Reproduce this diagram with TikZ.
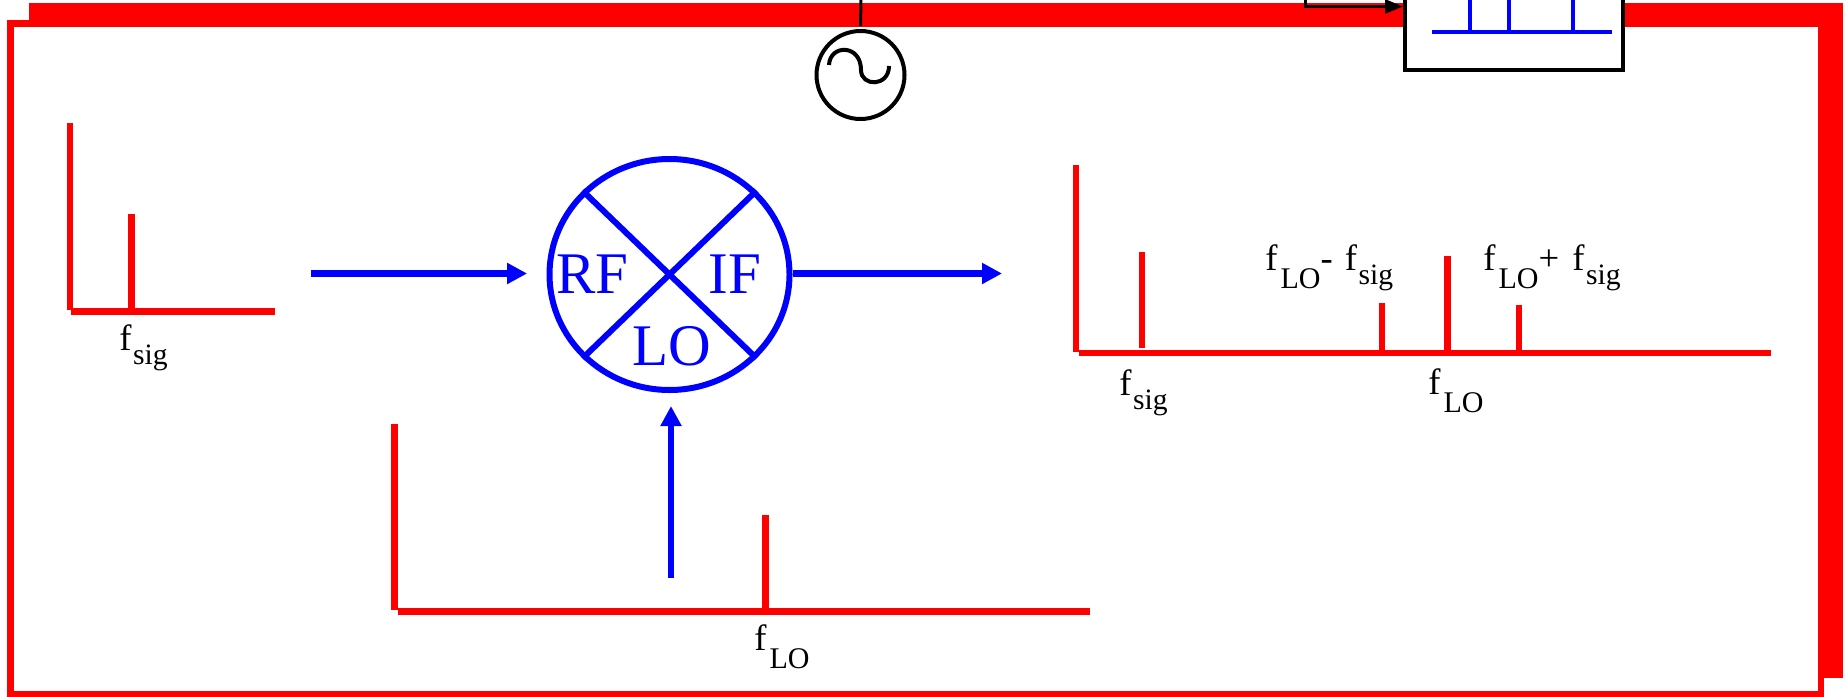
\documentclass[tikz,border=0pt]{standalone}
\usepackage{fontspec}
\setmainfont{Liberation Serif}
\usepackage{tikz}
\usetikzlibrary{shapes, arrows.meta, positioning, calc}
\tikzstyle{spec} = [draw=red, line width=3.2pt]
\tikzstyle{flow} = [draw=blue, line width=3.2pt, -{Triangle[length=10pt, width=10pt]}]
\tikzstyle{tick} = [draw=blue, line width=1.6pt]
\tikzstyle{wire} = [draw=black, line width=1.5pt]
\tikzstyle{freq} = [inner sep=0pt, anchor=base west, font=\fontsize{18.3}{20}\selectfont]
\tikzstyle{port} = [inner sep=0pt, anchor=base west, text=blue, font=\fontsize{29.5}{32}\selectfont]
\newcommand{\siglow}{\kern0.8pt\raisebox{-7pt}{\fontsize{14.8}{16}\selectfont sig}}
\newcommand{\lolow}{\kern1.5pt\raisebox{-9pt}{\fontsize{15}{16}\selectfont LO}}

\begin{document}
\begin{tikzpicture}[x=0.5pt, y=-0.5pt]
\clip (0,0) rectangle (1846,696);
% frame
\fill [red] (29,3) rectangle (1843,678);
\draw [spec, fill=white] (10.5,23.5) rectangle (1821,694);

% oscillator and filter above the mixer
\node (osc) [draw=black, line width=2pt, circle, minimum size=44pt, inner sep=0pt] at (860.5,75) {};
\coordinate (oscin) at (861,-5);
\draw [wire, shorten >=1.5pt] (oscin) -- (osc.north);
\draw [black, line width=2pt] (829,65) .. controls (830,44) and (861,44) .. (861,70) .. controls (861,87) and (889,87) .. (889,66);
\node (filt) [draw=black, fill=white, line width=2pt, rectangle, minimum width=109pt, minimum height=60pt, anchor=south, inner sep=0pt] at (1514,71.5) {};
\coordinate (ctrl) at (1305,-5);
\coordinate (filtin) at (filt.west |- 0,6.5);
\draw [wire, -{Triangle[length=9pt, width=7pt]}] (ctrl) |- (filtin);
\coordinate (combl) at (1432,32);
\coordinate (combr) at (1612,32);
\draw [tick, line width=2pt] (combl) -- (combr);
\foreach \x in {1470,1509,1573} {
  \draw [tick] (\x,-5) -- (\x,32);
}

% mixer
\node (mixer) [draw=blue, line width=3pt, ellipse, minimum width=120pt, minimum height=115.5pt, inner sep=0pt] at (669.5,274.5) {};
\draw [blue, line width=3pt] (mixer.north west) -- (mixer.south east);
\draw [blue, line width=3pt] (mixer.south west) -- (mixer.north east);
\node (rflab) [port] at (556,293) {RF};
\node (iflab) [port] at (708,293) {IF};
\node (lolab) [port] at (632,365) {LO};

% arrows
\coordinate (rfstart) at (311,273.5);
\coordinate (ifend) at (1002,273.5);
\coordinate (lostart) at (671,578);
\draw [flow, shorten >=9.7pt] (rfstart) -- (rfstart -| mixer.west);
\draw [flow] (mixer.east |- ifend) -- (ifend);
\draw [flow, shorten >=6.5pt] (lostart) -- (lostart |- mixer.south);

% input spectrum
\draw [spec] (70,123) -- (70,310);
\draw [spec] (71,311.5) -- (275,311.5);
\draw [spec] (131.5,214) -- (131.5,310);
\node (sigin) [freq] at (119,350) {f\siglow};

% LO spectrum
\draw [spec] (394.5,424) -- (394.5,610);
\draw [spec] (397.5,611.5) -- (1090,611.5);
\draw [spec] (765.5,515) -- (765.5,610);
\node (loin) [freq] at (754,650) {f\lolow};

% output spectrum
\draw [spec] (1076,165) -- (1076,351.5);
\draw [spec] (1079,353) -- (1770.5,353);
\draw [spec] (1142,252) -- (1142,348);
\foreach \x/\y in {1382/303,1447.5/256,1519/305} {
  \draw [spec] (\x,\y) -- (\x,351);
}
\node (sigout) [freq] at (1119,395) {f\siglow};
\node (loout) [freq] at (1428,394) {f\lolow};
\node (diff) [freq] at (1265,270) {f\lolow-\kern1.5pt{} f\siglow};
\node (summ) [freq] at (1483,270) {f\lolow+\kern2pt{} f\siglow};
\end{tikzpicture}
\end{document}
